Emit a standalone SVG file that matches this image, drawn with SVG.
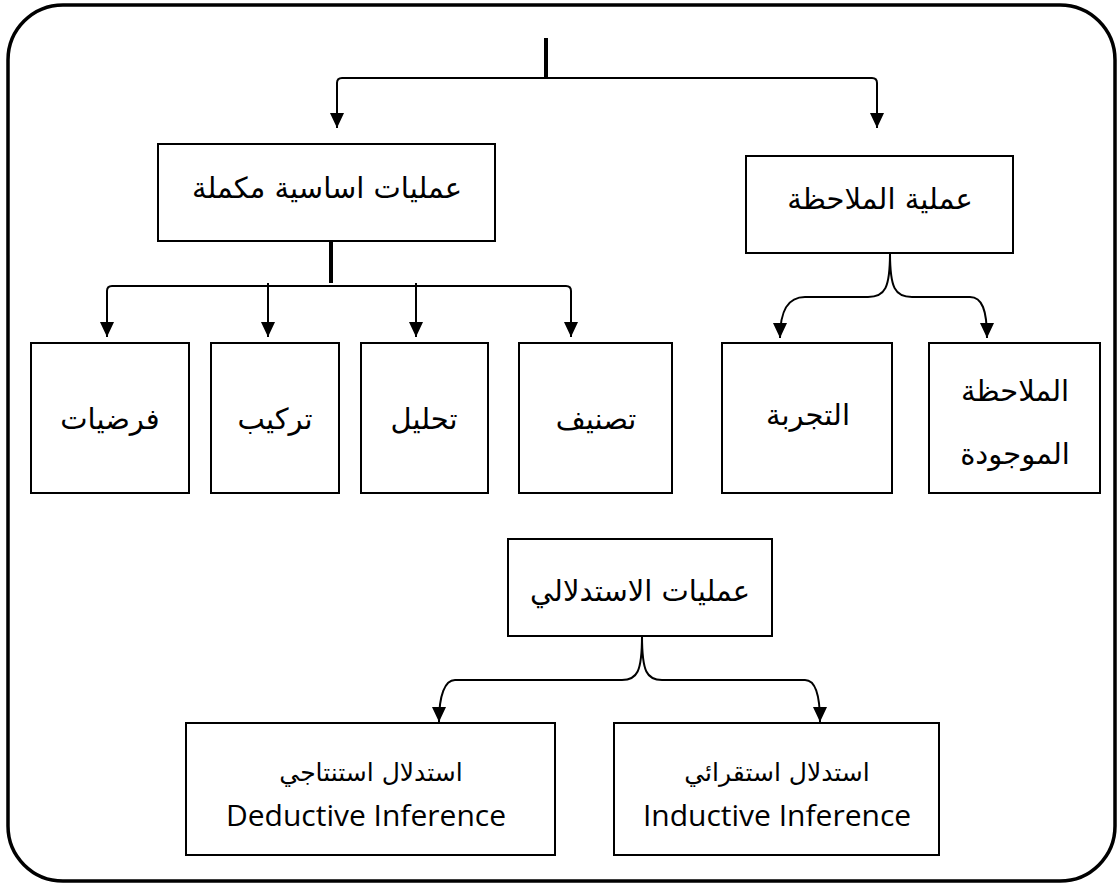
<svg xmlns="http://www.w3.org/2000/svg" width="1118" height="884" viewBox="0 0 1118 884">
<style>
.box{fill:#fff;stroke:#000;stroke-width:2}
.ar{font-family:'DejaVu Sans',sans-serif;font-size:29px;fill:#000;text-anchor:middle}
.ar2{font-family:'DejaVu Sans',sans-serif;font-size:25px;fill:#000;text-anchor:middle}
.en{font-family:'Open Sans',sans-serif;font-size:30px;fill:#000;text-anchor:middle}
.ln{fill:none;stroke:#000;stroke-width:2}
.thick{fill:none;stroke:#000;stroke-width:4}
</style>
<defs>
<marker id="ah" markerUnits="userSpaceOnUse" markerWidth="15" markerHeight="14" refX="15" refY="7" orient="auto">
<path d="M0,0 L15,7 L0,14 z" fill="#000"/>
</marker>
</defs>
<rect x="8" y="5" width="1107" height="876" rx="55" ry="55" fill="#fff" stroke="#000" stroke-width="3.5"/>
<g id="connectors">
<path class="thick" d="M546,38 L546,78"/>
<path class="ln" d="M546,78 L342,78 Q337,78 337,83 L337,128" marker-end="url(#ah)"/>
<path class="ln" d="M546,78 L872,78 Q877,78 877,83 L877,128" marker-end="url(#ah)"/>
<path class="thick" d="M331,241 L331,283"/>
<path class="ln" d="M331,286 L112,286 Q107,286 107,291 L107,337" marker-end="url(#ah)"/>
<path class="ln" d="M331,286 L566,286 Q571,286 571,291 L571,337" marker-end="url(#ah)"/>
<path class="ln" d="M268,283 L268,337" marker-end="url(#ah)"/>
<path class="ln" d="M416,283 L416,337" marker-end="url(#ah)"/>
<path class="ln" d="M890,253 C890,288 885,297 868,297 L805,297 C788,297 780,310 780,338" marker-end="url(#ah)"/>
<path class="ln" d="M890,253 C890,288 895,297 912,297 L970,297 C982,297 987,310 987,338" marker-end="url(#ah)"/>
<path class="ln" d="M642,636 C642,672 637,680 622,680 L455,680 C445,680 439,695 439,722" marker-end="url(#ah)"/>
<path class="ln" d="M642,636 C642,672 647,680 662,680 L805,680 C815,680 820,695 820,722" marker-end="url(#ah)"/>
</g>
<g id="n-basic"><rect class="box" x="158" y="144" width="337" height="97"/><text class="ar" x="327" y="198">عمليات اساسية مكملة</text></g>
<g id="n-observation"><rect class="box" x="746" y="156" width="267" height="97"/><text class="ar" x="880" y="209">عملية الملاحظة</text></g>
<g id="n-hyp"><rect class="box" x="31" y="343" width="158" height="150"/><text class="ar" x="110" y="429">فرضيات</text></g>
<g id="n-synth"><rect class="box" x="211" y="343" width="128" height="150"/><text class="ar" x="275" y="429">تركيب</text></g>
<g id="n-anal"><rect class="box" x="361" y="343" width="127" height="150"/><text class="ar" x="424" y="429">تحليل</text></g>
<g id="n-class"><rect class="box" x="519" y="343" width="153" height="150"/><text class="ar" x="596" y="429">تصنيف</text></g>
<g id="n-exp"><rect class="box" x="722" y="343" width="170" height="150"/><text class="ar" x="808" y="425">التجربة</text></g>
<g id="n-exist"><rect class="box" x="929" y="343" width="171" height="150"/><text class="ar" x="1015" y="401">الملاحظة</text><text class="ar" x="1015" y="464">الموجودة</text></g>
<g id="n-infer"><rect class="box" x="508" y="539" width="264" height="97"/><text class="ar" x="640" y="601">عمليات الاستدلالي</text></g>
<g id="n-deduct"><rect class="box" x="186" y="723" width="369" height="132"/><text class="ar2" x="371" y="781">استدلال استنتاجي</text><text class="en" x="366" y="826">Deductive Inference</text></g>
<g id="n-induct"><rect class="box" x="614" y="723" width="325" height="132"/><text class="ar2" x="777" y="781">استدلال استقرائي</text><text class="en" x="777" y="826">Inductive Inference</text></g>
</svg>
